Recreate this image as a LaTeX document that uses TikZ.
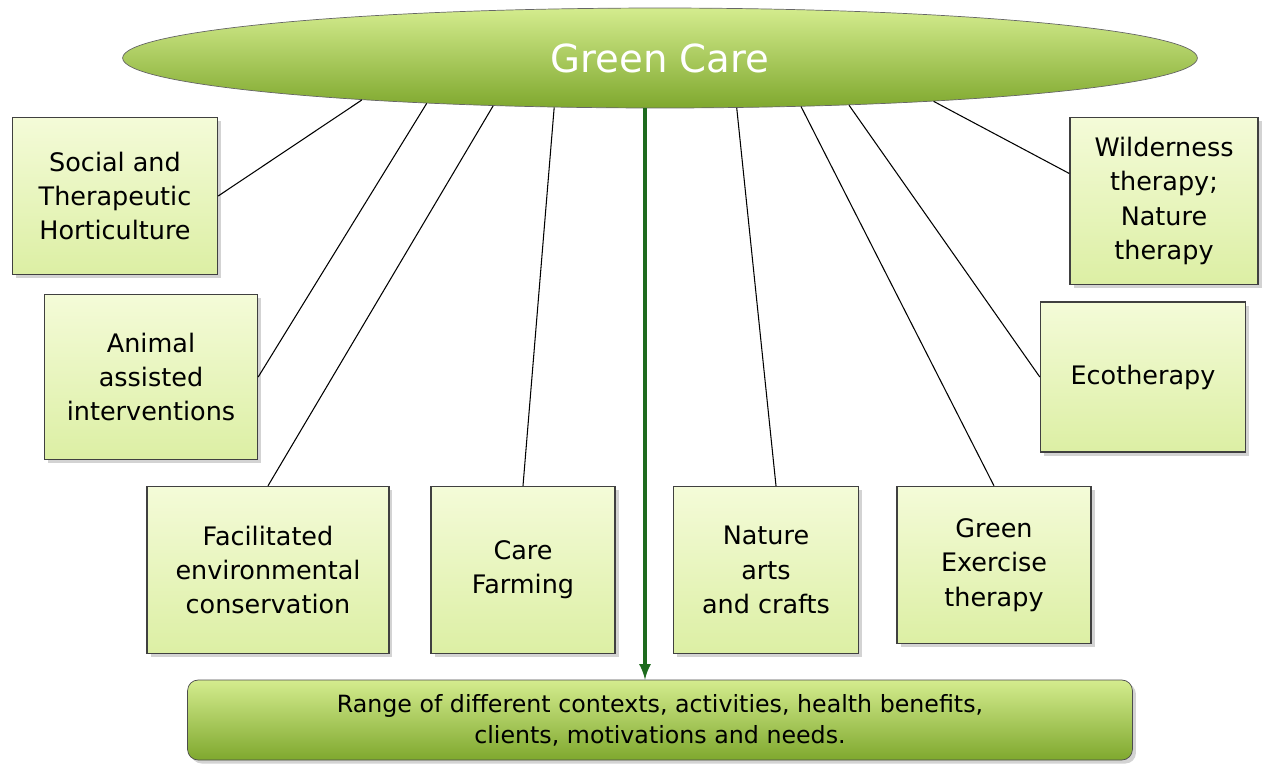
\documentclass[tikz,border=0pt]{standalone}
\usepackage{fontspec}
\setmainfont{DejaVu Sans}
\usetikzlibrary{shapes.geometric,shadows}
\definecolor{leafdark}{HTML}{7FA82E}
\definecolor{leaflight}{HTML}{D4EC8E}
\definecolor{boxtop}{HTML}{F4FBD8}
\definecolor{boxbot}{HTML}{DCEFA4}
\definecolor{arrowgreen}{HTML}{1E6B1E}
\tikzset{
  carebox/.style={draw=black!75, line width=0.8pt, top color=boxtop, bottom color=boxbot,
    align=center, font=\fontsize{14.5}{19.5}\selectfont, inner sep=2pt,
    drop shadow={shadow xshift=2pt, shadow yshift=-2pt, opacity=0.35}},
  link/.style={line width=0.6pt, black}
}
\begin{document}
\begin{tikzpicture}[x=0.02cm, y=-0.02cm]
    \useasboundingbox (0,0) rectangle (1271,772);
    % top ellipse
    \node[ellipse, draw=black!60, top color=leaflight, bottom color=leafdark, inner sep=0,
      minimum width=21.5cm, minimum height=2cm, text=white,
      font=\fontsize{22}{26}\selectfont] (ell) at (660,58) {Green Care};
    % boxes
    \node[carebox, minimum width=4.1cm, minimum height=3.14cm] (hort) at (115,196) {Social and\\Therapeutic\\Horticulture};
    \node[carebox, minimum width=4.26cm, minimum height=3.3cm] (animal) at (151,377) {Animal\\assisted\\interventions};
    \node[carebox, minimum width=4.84cm, minimum height=3.34cm] (conserv) at (268,570) {Facilitated\\environmental\\conservation};
    \node[carebox, minimum width=3.68cm, minimum height=3.34cm] (farm) at (523,570) {Care\\Farming};
    \node[carebox, minimum width=3.7cm, minimum height=3.34cm] (arts) at (766,570) {Nature\\arts\\and crafts};
    \node[carebox, minimum width=3.88cm, minimum height=3.14cm] (exer) at (994,565) {Green\\Exercise\\therapy};
    \node[carebox, minimum width=4.1cm, minimum height=3cm] (eco) at (1143,377) {Ecotherapy};
    \node[carebox, minimum width=3.76cm, minimum height=3.34cm] (wild) at (1164,201) {Wilderness\\therapy;\\Nature\\therapy};
    % bottom bar
    \node[draw=black!70, rounded corners=6pt, top color=leaflight, bottom color=leafdark,
      minimum width=18.9cm, minimum height=1.6cm, align=center,
      font=\fontsize{13.5}{17.5}\selectfont,
      drop shadow={shadow xshift=2pt, shadow yshift=-2pt, opacity=0.35}] (range) at (660,720)
      {Range of different contexts, activities, health benefits,\\clients, motivations and needs.};
    % connectors
    \draw[link] (ell.188.1) -- (hort.east);
    \draw[link] (ell.191.4) -- (animal.east);
    \draw[link] (ell.196.6) -- (conserv.north);
    \draw[link] (ell.205.5) -- (farm.north);
    \draw[link] (ell.327) -- ([xshift=0.2cm]arts.north);
    \draw[link] (ell.341.1) -- (exer.north);
    \draw[link] (ell.346.7) -- (eco.west);
    \draw[link] (ell.351) -- ([yshift=0.55cm]wild.west);
    \coordinate (ax) at (645,0);
    \draw[arrowgreen, line width=2pt, -latex] (ell.south -| ax) -- (range.north -| ax);
\end{tikzpicture}
\end{document}
